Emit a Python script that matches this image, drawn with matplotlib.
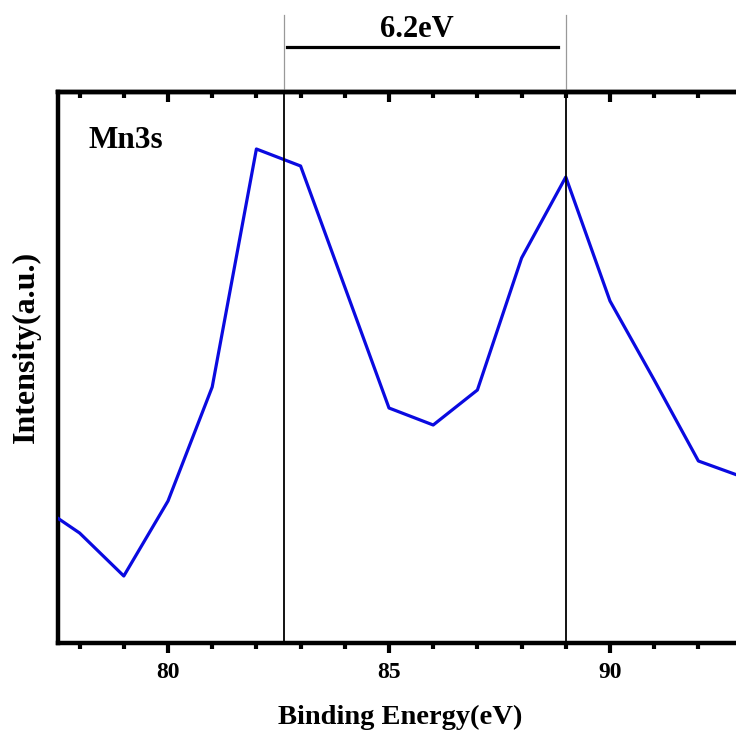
import numpy as np
import matplotlib.pyplot as plt
import matplotlib.transforms as mtransforms

# Mn3s XPS spectrum (arbitrary units)
energy = [77, 78, 79, 80, 81, 82, 83, 84, 85, 86, 87, 88, 89, 90, 91, 92, 93]
intensity = [140, 110, 67, 142, 256, 494, 477, 356, 235, 218, 253, 385, 466, 342, 263, 182, 166]

peak_lines = [82.62, 89.0]
split_label = '6.2eV'

plt.rcParams['font.family'] = ['Liberation Serif', 'DejaVu Serif']
plt.rcParams['font.weight'] = 'bold'

fig = plt.figure(figsize=(7.36, 7.33), dpi=100)
ax = fig.add_axes([57.5 / 736, 90 / 733, 685.1 / 736, 551 / 733])

ax.plot(energy, intensity, color='#0a0ae0', lw=2.3, zorder=3)

ax.set_xlim(77.5, 93.0)
ax.set_ylim(0, 551)
ax.set_yticks([])
ax.set_xticks([80, 85, 90])
ax.set_xticks(np.arange(78, 94, 1), minor=True)
ax.tick_params(axis='x', which='major', direction='out', length=7, width=3, pad=7)
ax.tick_params(axis='x', which='minor', direction='out', length=4, width=3)
for lab in ax.get_xticklabels():
    lab.set_fontweight('bold')
    lab.set_fontsize(17)

for side in ['left', 'bottom', 'top']:
    ax.spines[side].set_linewidth(3.2)
ax.spines['right'].set_visible(False)

# top axis with inward ticks, no labels
top = ax.secondary_xaxis('top')
top.set_xticks([80, 85, 90])
top.set_xticks(np.arange(78, 94, 1), minor=True)
top.tick_params(axis='x', which='major', direction='in', length=7, width=3, labeltop=False)
top.tick_params(axis='x', which='minor', direction='in', length=4, width=3)
top.spines['top'].set_linewidth(3.2)

# peak markers
trans = mtransforms.blended_transform_factory(ax.transData, ax.transAxes)
for xv in peak_lines:
    ax.plot([xv, xv], [0, 1], color='black', lw=1.3, transform=trans, zorder=4)
    ax.plot([xv, xv], [1, 1.14], color='#999999', lw=0.9, transform=trans, clip_on=False)

ax.plot([82.69, 88.82], [1.082, 1.082], color='black', lw=2.3, transform=trans, clip_on=False)
ax.text(85.63, 1.114, split_label, transform=trans, ha='center', va='center',
        fontsize=22, fontweight='bold')

ax.text(0.045, 0.912, 'Mn3s', transform=ax.transAxes, ha='left', va='center',
        fontsize=22.5, fontweight='bold')

fig.text(400 / 736, 1 - 717 / 733, 'Binding Energy(eV)', ha='center', va='center',
         fontsize=20.5, fontweight='bold')
fig.text(26 / 736, 1 - 347 / 733, 'Intensity(a.u.)', ha='center', va='center',
         rotation=90, fontsize=23, fontweight='bold')

plt.savefig('out.png', dpi=100)
